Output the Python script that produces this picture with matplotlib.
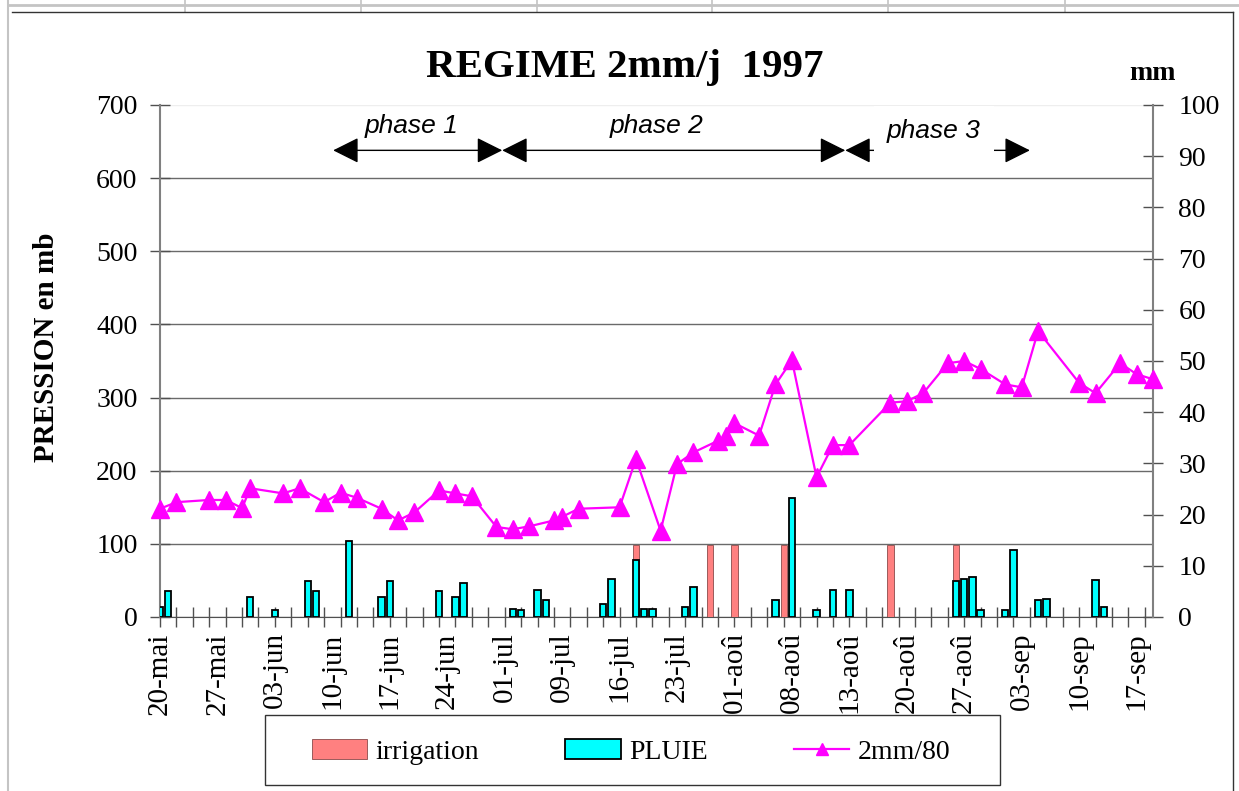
import numpy as np
import matplotlib
matplotlib.use('Agg')
import matplotlib.pyplot as plt
from matplotlib.patches import Rectangle
from matplotlib.lines import Line2D

plt.rcParams['font.family'] = ['Liberation Serif', 'DejaVu Serif']

# categories (one per measurement day), label every 7th
date_labels = ['20-mai', '27-mai', '03-jun', '10-jun', '17-jun', '24-jun', '01-jul',
               '09-jul', '16-jul', '23-jul', '01-aoû', '08-aoû', '13-aoû', '20-aoû',
               '27-aoû', '03-sep', '10-sep', '17-sep']
label_pos = [7 * i for i in range(len(date_labels))]

# 2mm/80 : pression (mb)
line_idx = [0, 2, 6, 8, 10, 11, 15, 17, 20, 22, 24, 27, 29, 31, 34, 36, 38, 41, 43, 45,
            48, 49, 51, 56, 58, 61, 63, 65, 68, 69, 70, 73, 75, 77, 80, 82, 84, 89, 91,
            93, 96, 98, 100, 103, 105, 107, 112, 114, 117, 119, 121]
line_val = [148, 157, 160, 160, 149, 176, 169, 176, 157, 170, 163, 148, 132, 143, 173,
            169, 165, 123, 120, 124, 132, 137, 148, 150, 216, 118, 209, 225, 241, 247,
            265, 248, 318, 351, 191, 235, 235, 293, 295, 306, 347, 350, 339, 318, 314,
            391, 320, 306, 347, 332, 325]

# PLUIE (mm)
pluie_idx = [0, 1, 11, 14, 18, 19, 23, 27, 28, 34, 36, 37, 43, 44, 46, 47, 54, 55, 58,
             59, 60, 64, 65, 75, 77, 80, 82, 84, 97, 98, 99, 100, 103, 104, 107, 108,
             114, 115]
pluie_mm = [2.0, 5.1, 3.9, 1.3, 7.0, 5.1, 14.8, 3.9, 7.0, 5.1, 3.9, 6.7, 1.6, 1.3, 5.2,
            3.3, 2.5, 7.5, 11.1, 1.6, 1.6, 2.0, 5.9, 3.3, 23.2, 1.3, 5.2, 5.2, 7.0, 7.5,
            7.9, 1.3, 1.3, 13.0, 3.3, 3.6, 7.2, 2.0]

# irrigation (mm)
irrig_idx = [58, 67, 70, 76, 89, 97]
irrig_mm = [14, 14, 14, 14, 14, 14]

# phases
phase_bounds = [21.1, 41.7, 83.5, 106.0]
phase_names = ['phase 1', 'phase 2', 'phase 3']
phase_text_x = [30.7, 60.5, 94.3]
phase_text_y = [671, 671, 664]

W, H = 1239, 791
def fx(p):
    return p / W
def fy(p):
    return 1 - p / H

fig = plt.figure(figsize=(W / 100, H / 100), dpi=100)
ax = fig.add_axes([fx(160), fy(617), fx(1153) - fx(160), fy(105) - fy(617)])
ax.set_xlim(0, 121)
ax.set_ylim(0, 700)
axb = ax.twinx()
axb.set_ylim(0, 100)
axl = ax.twinx()
axl.set_ylim(0, 700)
axl.axis('off')

# bars (mm, right axis)
axb.bar(irrig_idx, irrig_mm, width=0.78, color='#FF8080', edgecolor='#8a4a4a', lw=0.6,
        label='irrigation')
axb.bar(pluie_idx, pluie_mm, width=0.78, color='#00FFFF', edgecolor='black', lw=1.3,
        label='PLUIE')

# line (mb, left scale)
axl.plot(line_idx, line_val, color='#FF00FF', lw=1.6, marker='^', ms=13, clip_on=False,
         label='2mm/80')

# axes styling
for s in ['top', 'right']:
    ax.spines[s].set_visible(False)
ax.spines['left'].set_color('#808080')
ax.spines['left'].set_linewidth(1.5)
ax.spines['bottom'].set_color('#505050')
for s in ['top', 'left', 'bottom']:
    axb.spines[s].set_visible(False)
axb.spines['right'].set_color('#808080')
axb.spines['right'].set_linewidth(1.5)

ax.set_yticks(range(0, 701, 100))
ax.tick_params(axis='y', direction='inout', length=14.4, width=1, color='#505050',
               labelsize=20, pad=9)
ax.yaxis.grid(True, color='#6a6a6a', lw=1)
ax.get_ygridlines()[-1].set_color('#eeeeee')
ax.set_axisbelow(True)

axb.set_yticks(range(0, 101, 10))
axb.tick_params(axis='y', direction='inout', length=14.4, width=1, color='#505050',
                labelsize=20, pad=11)

ax.set_xticks(label_pos)
ax.set_xticklabels(date_labels, rotation=90)
ax.set_xticks(np.arange(0, 121, 2), minor=True)
ax.xaxis.remove_overlapping_locs = False
ax.tick_params(axis='x', which='major', length=0, pad=11, labelsize=21)
ax.tick_params(axis='x', which='minor', direction='inout', length=14.4, width=1,
               color='#505050')

# phases
for i in range(3):
    ax.annotate('', xy=(phase_bounds[i + 1], 638), xytext=(phase_bounds[i], 638),
                arrowprops=dict(arrowstyle='<|-|>,head_length=0.8,head_width=0.4',
                                mutation_scale=20, color='black', lw=1,
                                shrinkA=0, shrinkB=0))
for i in range(3):
    kw = {}
    if i == 2:
        kw['bbox'] = dict(boxstyle='square,pad=0.5', fc='white', ec='none')
    ax.text(phase_text_x[i], phase_text_y[i], phase_names[i], ha='center', va='center',
            fontsize=19, style='italic', family='Liberation Sans', zorder=5, **kw)

# texts
fig.text(fx(625), fy(68), 'REGIME 2mm/j  1997', ha='center', va='center', fontsize=29.5,
         fontweight='bold')
fig.text(fx(47), fy(347), 'PRESSION en mb', ha='center', va='center', rotation=90,
         fontsize=21, fontweight='bold')
fig.text(fx(1153), fy(73), 'mm', ha='center', va='center', fontsize=20, fontweight='bold')

# legend
h1, l1 = axb.get_legend_handles_labels()
h2, l2 = axl.get_legend_handles_labels()
fig.legend(h1 + h2, l1 + l2, loc='center', bbox_to_anchor=(fx(631), fy(752)),
           bbox_transform=fig.transFigure, ncol=3, frameon=False, fontsize=20,
           handlelength=2.0, handleheight=0.72, handletextpad=0.3, columnspacing=3.1,
           markerscale=0.65)
fig.add_artist(Rectangle((fx(265), fy(785)), fx(1000) - fx(265), fy(715) - fy(785),
                         transform=fig.transFigure, fill=False, ec='#333333', lw=1))

# sheet / chart frame
fig.add_artist(Line2D([fx(8), 1], [fy(5), fy(5)], color='#c4c4c4', lw=2))
fig.add_artist(Line2D([fx(8), fx(8)], [0, 1], color='#c4c4c4', lw=1.5))
for xs in [185, 361, 537, 712, 888, 1065]:
    fig.add_artist(Line2D([fx(xs), fx(xs)], [fy(0), fy(12)], color='#c4c4c4', lw=1.2))
fig.add_artist(Line2D([fx(12), fx(1233)], [fy(12), fy(12)], color='#333333', lw=1))
fig.add_artist(Line2D([fx(1233), fx(1233)], [fy(12), 0], color='#333333', lw=1))

plt.savefig('out.png', dpi=100)
